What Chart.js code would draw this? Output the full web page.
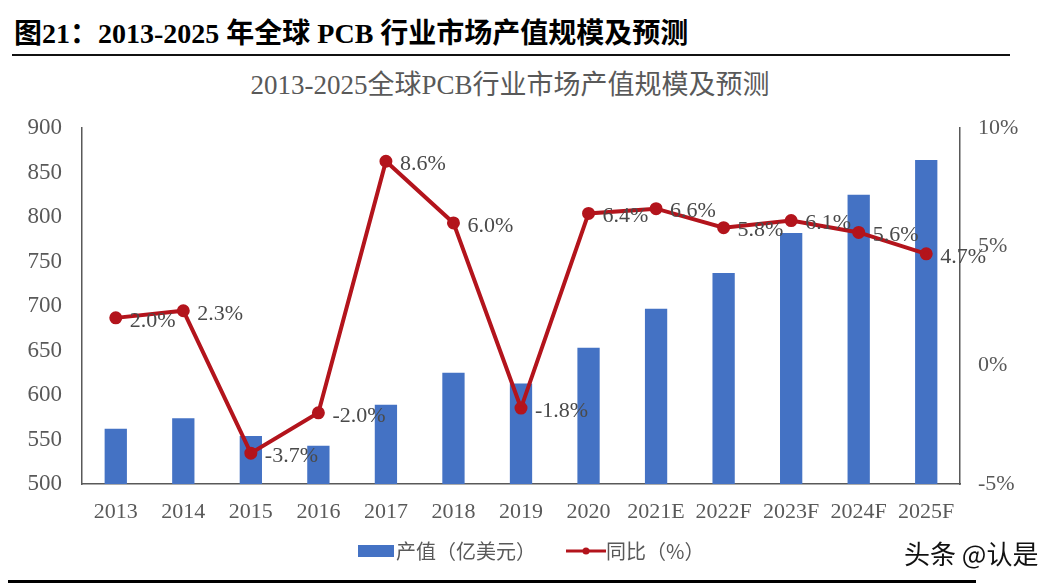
<!DOCTYPE html>
<html>
<head>
<meta charset="utf-8">
<script src="https://cdn.jsdelivr.net/npm/chart.js@4.4.0/dist/chart.umd.min.js"></script>
<style>
  html, body { margin:0; padding:0; background:#fff; }
  #wrap { position:relative; width:1062px; height:588px; overflow:hidden; }
  #c { position:absolute; left:0; top:0; }
  .hdr { position:absolute; left:14px; top:18px; line-height:32px; font-family:"Liberation Serif","Noto Sans CJK SC",serif; font-weight:bold; font-size:28px; color:#000; white-space:nowrap; }
  .line1 { position:absolute; left:12px; top:54px; width:998px; height:2px; background:#111; }
  .line2 { position:absolute; left:8px; top:580px; width:968px; height:3px; background:#000; }
  .ttl { position:absolute; left:0; width:1020px; top:70px; line-height:30px; text-align:center; font-family:"Liberation Serif","Noto Sans CJK SC",serif; font-size:27px; color:#595959; white-space:nowrap; }
  .wm { position:absolute; left:904px; top:536px; line-height:34px; font-family:"Noto Sans CJK SC",sans-serif; font-size:26px; color:#111; white-space:nowrap; }
</style>
</head>
<body>
<div id="wrap">
  <div class="hdr">图21：2013-2025 年全球 PCB 行业市场产值规模及预测</div>
  <div class="line1"></div>
  <div class="ttl">2013-2025全球PCB行业市场产值规模及预测</div>
  <canvas id="c" width="1062" height="588"></canvas>
  <div class="wm">头条 @认是</div>
  <div class="line2"></div>
</div>
<script>
const categories = ["2013","2014","2015","2016","2017","2018","2019","2020","2021E","2022F","2023F","2024F","2025F"];
const outputValues = [562, 574, 554, 543, 589, 625, 613, 653, 697, 737, 782, 825, 864];
const growthValues = [2.0, 2.3, -3.7, -2.0, 8.6, 6.0, -1.8, 6.4, 6.6, 5.8, 6.1, 5.6, 4.7];
const leftTicks = [500, 550, 600, 650, 700, 750, 800, 850, 900];
const rightTicks = [-5, 0, 5, 10];
const seriesNames = ["产值（亿美元）", "同比（%）"];

const BLUE = "#4472C4";
const RED = "#B3141C";
const SERIF = '"Liberation Serif","Noto Sans CJK SC",serif';

const labelPlugin = {
  id: "lineLabels",
  afterDatasetsDraw(chart) {
    const ctx = chart.ctx;
    const meta = chart.getDatasetMeta(1);
    ctx.save();
    ctx.font = "22px " + SERIF;
    ctx.fillStyle = "#4a4a4a";
    ctx.textAlign = "left";
    ctx.textBaseline = "middle";
    meta.data.forEach((pt, i) => {
      ctx.fillText(growthValues[i].toFixed(1) + "%", pt.x + 14, pt.y + 3);
    });
    ctx.restore();
  }
};

const legendPlugin = {
  id: "customLegend",
  afterDraw(chart) {
    const ctx = chart.ctx;
    const y = 551;
    ctx.save();
    ctx.font = '20px "Noto Sans CJK SC",sans-serif';
    ctx.textBaseline = "middle";
    ctx.textAlign = "left";
    ctx.fillStyle = BLUE;
    ctx.fillRect(358, y - 6, 36, 12);
    ctx.fillStyle = "#595959";
    ctx.fillText(seriesNames[0], 396, y);
    ctx.strokeStyle = RED;
    ctx.lineWidth = 3;
    ctx.beginPath();
    ctx.moveTo(566, y);
    ctx.lineTo(606, y);
    ctx.stroke();
    ctx.fillStyle = RED;
    ctx.beginPath();
    ctx.arc(586, y, 3.5, 0, Math.PI * 2);
    ctx.fill();
    ctx.fillStyle = "#595959";
    ctx.fillText(seriesNames[1], 606, y);
    ctx.restore();
  }
};

new Chart(document.getElementById("c"), {
  data: {
    labels: categories,
    datasets: [
      {
        type: "bar",
        label: seriesNames[0],
        data: outputValues,
        backgroundColor: BLUE,
        yAxisID: "y",
        barPercentage: 0.33,
        categoryPercentage: 1.0,
        order: 2
      },
      {
        type: "line",
        label: seriesNames[1],
        data: growthValues,
        borderColor: RED,
        backgroundColor: RED,
        borderWidth: 4,
        pointRadius: 4.5,
        pointBackgroundColor: RED,
        pointBorderColor: RED,
        tension: 0,
        yAxisID: "y1",
        order: 1
      }
    ]
  },
  options: {
    responsive: false,
    animation: false,
    devicePixelRatio: 1,
    layout: { padding: { left: 0, right: 0, top: 128, bottom: 0 } },
    plugins: {
      legend: { display: false },
      tooltip: { enabled: false },
      title: { display: false }
    },
    scales: {
      x: {
        grid: { display: false, drawTicks: false },
        border: { display: true, color: "#595959", width: 1.5 },
        ticks: { font: { family: SERIF, size: 22 }, color: "#595959", padding: 15, maxRotation: 0, autoSkip: false },
        afterFit(s) { s.height = 104; }
      },
      y: {
        position: "left",
        min: 500, max: 900,
        afterBuildTicks(s) { s.ticks = leftTicks.map(v => ({ value: v })); },
        grid: { display: false, drawTicks: false },
        border: { display: true, color: "#595959", width: 1.5 },
        ticks: { font: { family: SERIF, size: 23 }, color: "#595959", padding: 20 },
        afterFit(s) { s.width = 82; }
      },
      y1: {
        position: "right",
        min: -5, max: 10,
        afterBuildTicks(s) { s.ticks = rightTicks.map(v => ({ value: v })); },
        grid: { display: false, drawTicks: false },
        border: { display: true, color: "#595959", width: 1.5 },
        ticks: { font: { family: SERIF, size: 22 }, color: "#595959", padding: 18, callback: v => v + "%" },
        afterFit(s) { s.width = 102; }
      }
    }
  },
  plugins: [labelPlugin, legendPlugin]
});
</script>
</body>
</html>
